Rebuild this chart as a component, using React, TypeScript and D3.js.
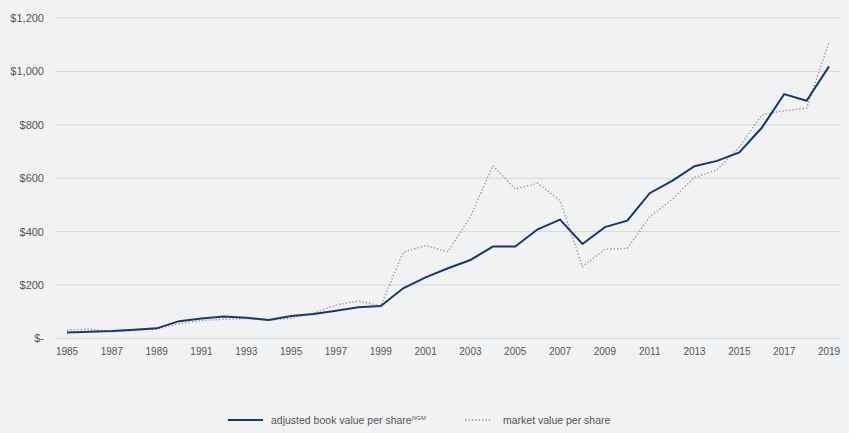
import React from "react";
import * as d3 from "d3";

const years: number[] = d3.range(1985, 2020);
const bookValue: number[] = [
  22, 25, 28, 33, 38, 65, 75, 82, 78, 69,
  84, 92, 104, 117, 122, 188, 229, 263, 294, 344,
  344, 409, 445, 354, 417, 441, 544, 590, 645, 665,
  697, 789, 915, 890, 1019,
];
const marketValue: number[] = [
  32, 35, 25, 30, 35, 55, 67, 72, 75, 68,
  76, 95, 125, 141, 122, 323, 348, 325, 456, 647,
  560, 581, 516, 269, 334, 338, 456, 521, 603, 631,
  718, 837, 853, 862, 1109,
];
const yTicks: number[] = [0, 200, 400, 600, 800, 1000, 1200];
const xTickYears: number[] = d3.range(1985, 2020, 2);

const W = 849;
const H = 433;

export default function App() {
  const x = d3.scaleLinear().domain([1985, 2019]).range([67, 829]);
  const y = d3.scaleLinear().domain([0, 1200]).range([338.5, 18]);
  const fmt = (v: number) => (v === 0 ? "$-" : "$" + d3.format(",")(v));

  const line = d3
    .line<number>()
    .x((_, i) => x(years[i]))
    .y((d) => y(d));

  const font = "'Liberation Sans', Arial, Helvetica, sans-serif";

  return (
    <svg
      width={W}
      height={H}
      style={{ position: "absolute", left: 0, top: 0, background: "#f1f2f4" }}
      fontFamily={font}
    >
      <rect x={0} y={0} width={W} height={H} fill="#f1f2f4" />
      {yTicks.map((t) => (
        <g key={t}>
          <line x1={56} x2={841} y1={y(t)} y2={y(t)} stroke="#d3d5d9" strokeWidth={1} />
          <text x={44} y={y(t)} dy="0.35em" textAnchor="end" fontSize={11} fill="#555">
            {fmt(t)}
          </text>
        </g>
      ))}
      {xTickYears.map((yr) => (
        <text key={yr} x={x(yr)} y={355} textAnchor="middle" fontSize={10} fill="#555">
          {yr}
        </text>
      ))}
      <path
        d={line(marketValue) || ""}
        fill="none"
        stroke="#9a9a9a"
        strokeWidth={1.4}
        strokeDasharray="1.4 2"
      />
      <path d={line(bookValue) || ""} fill="none" stroke="#163a6a" strokeWidth={2} />
      <g>
        <line x1={228} x2={263} y1={420} y2={420} stroke="#163a6a" strokeWidth={2} />
        <text x={271} y={420} dy="0.35em" fontSize={10.5} fill="#555">
          adjusted book value per share
          <tspan fontSize={6} dy="-4" fontStyle="italic">NGM</tspan>
        </text>
        <line
          x1={465}
          x2={491}
          y1={420}
          y2={420}
          stroke="#9a9a9a"
          strokeWidth={1.4}
          strokeDasharray="1.4 2"
        />
        <text x={503} y={420} dy="0.35em" fontSize={10.5} fill="#555">
          market value per share
        </text>
      </g>
    </svg>
  );
}
